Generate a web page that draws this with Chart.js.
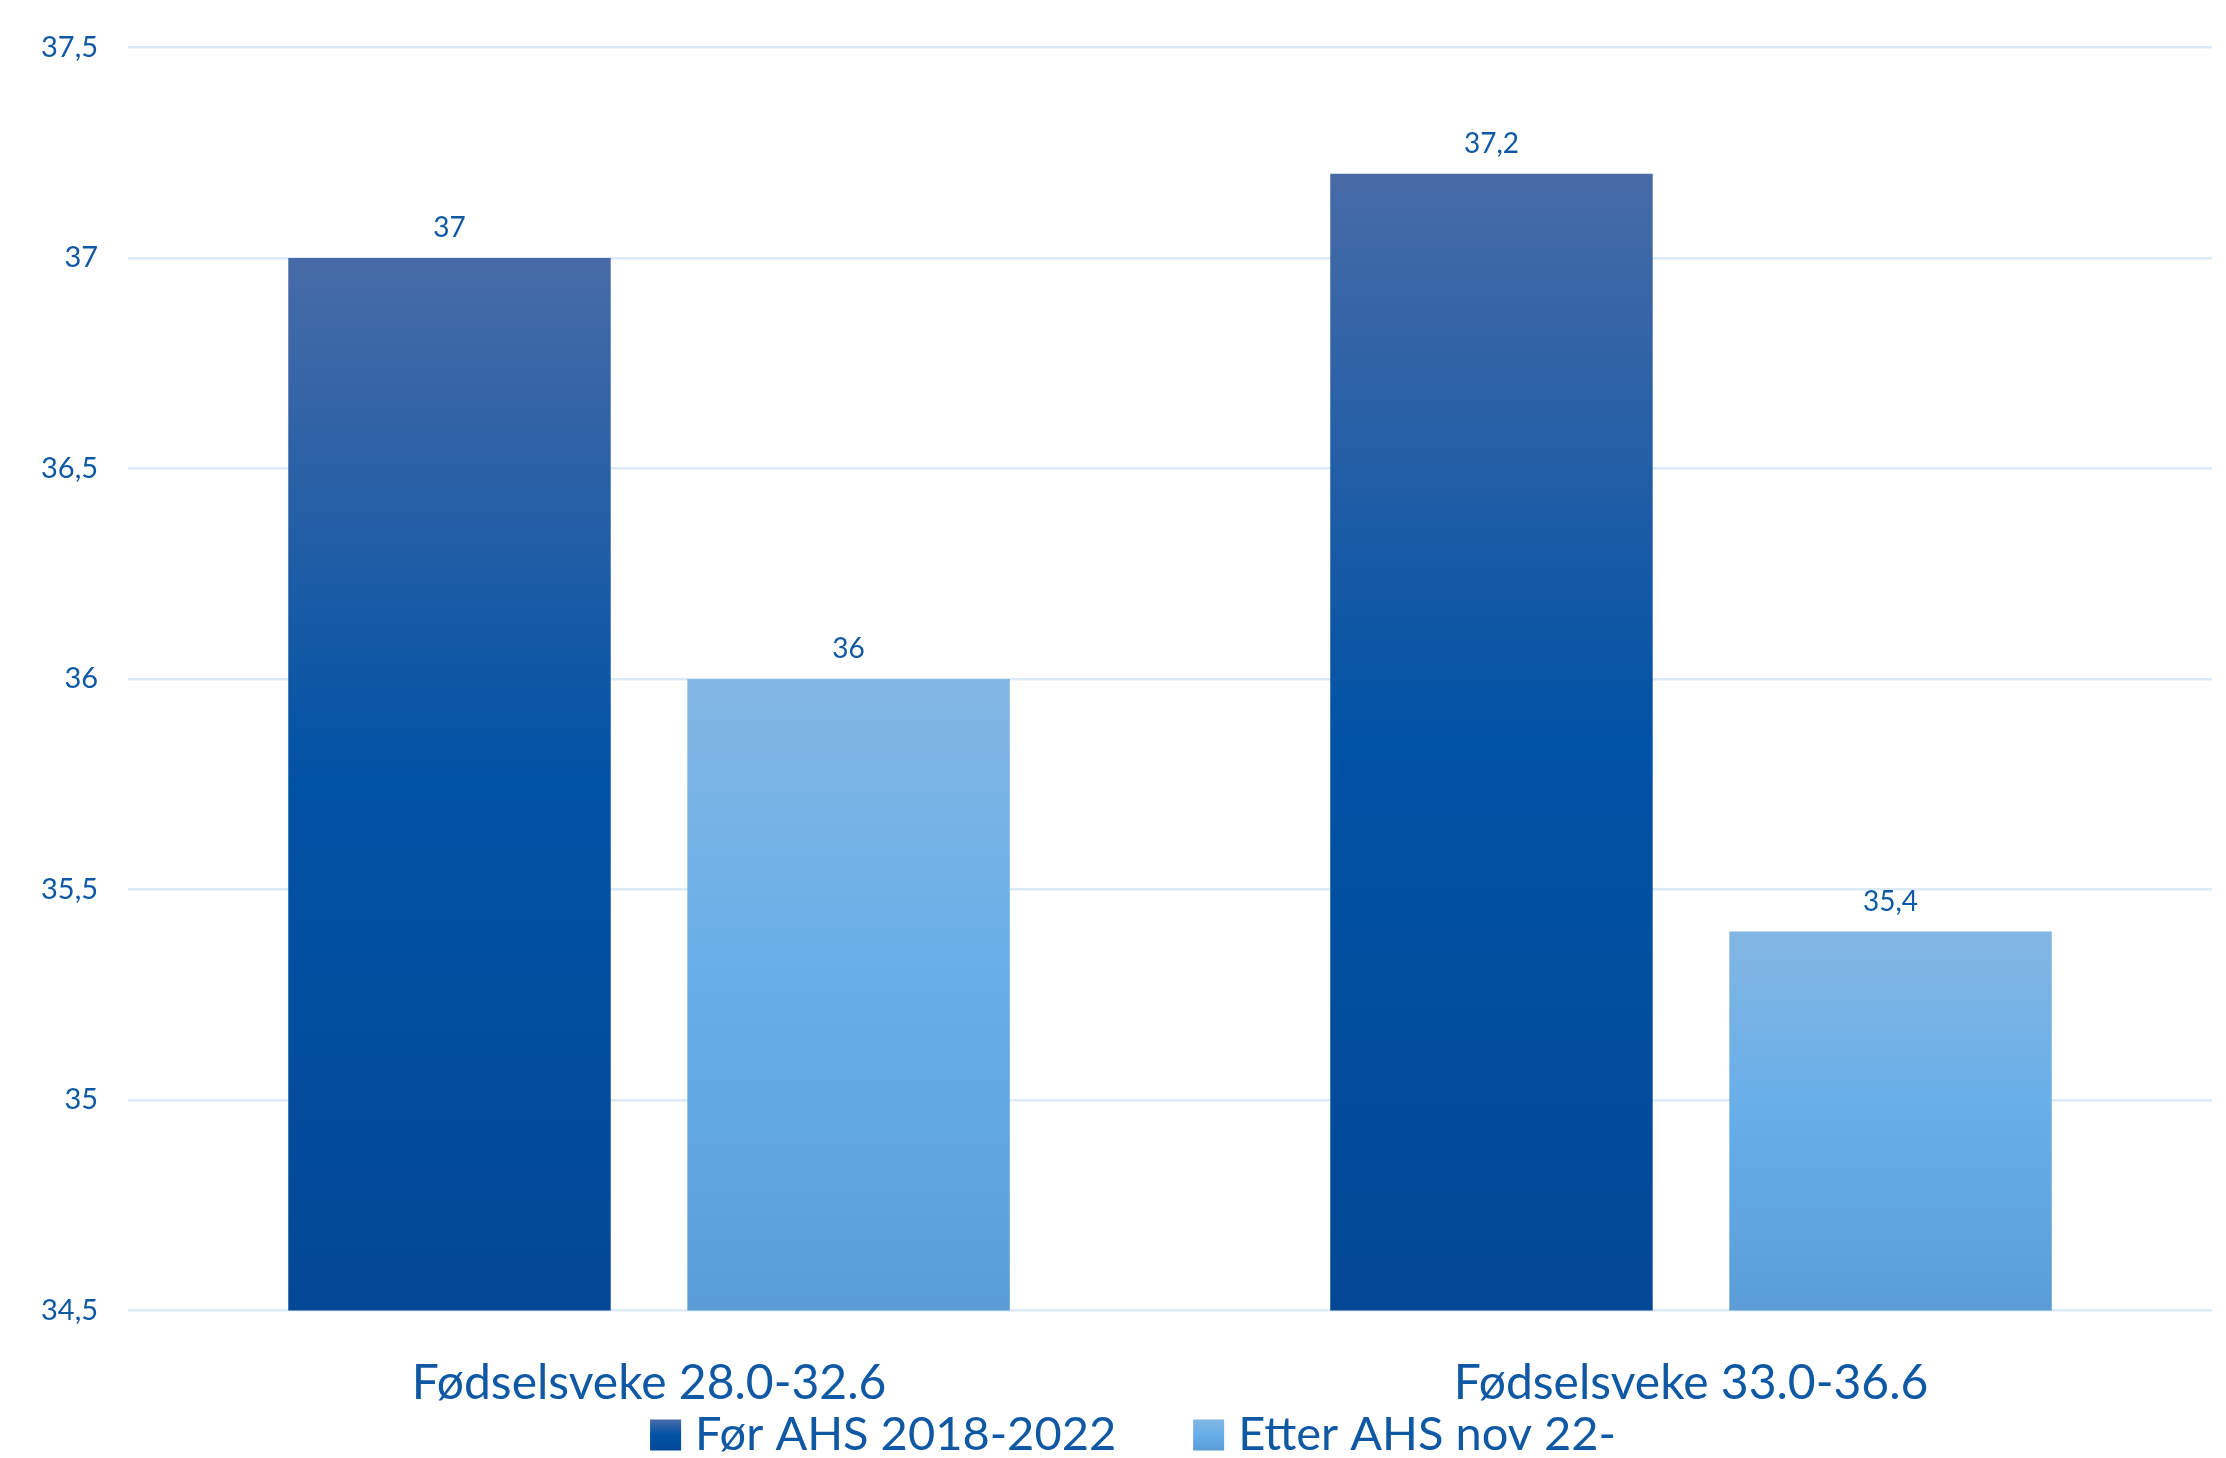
<!DOCTYPE html>
<html>
<head>
<meta charset="utf-8">
<script src="https://cdn.jsdelivr.net/npm/chart.js@4.4.0/dist/chart.umd.min.js"></script>
<style>
  html, body { margin: 0; padding: 0; background: #ffffff; }
  #wrap { width: 2226px; height: 1458px; }
</style>
</head>
<body>
<div id="wrap"><canvas id="barChart" width="2226" height="1458"></canvas></div>
<script>
// data
const categories = ['Fødselsveke 28.0-32.6', 'Fødselsveke 33.0-36.6'];
const seriesNames = ['Før AHS 2018-2022', 'Etter AHS nov 22-'];
const forValues = [37, 37.2];
const etterValues = [36, 35.4];
const yTickLabels = ['34,5', '35', '35,5', '36', '36,5', '37', '37,5'];

const textColor = '#0f58a4';
const fontName = 'Lato, "Open Sans", sans-serif';

// colour stops of each bar's vertical gradient (top, middle, bottom)
const darkStops = ['#476ba7', '#0052a5', '#034896'];
const lightStops = ['#82b6e3', '#66aee8', '#5a9dd6'];

function barGradient(stops) {
  return function (context) {
    const chart = context.chart;
    const yScale = chart.scales.y;
    if (!chart.chartArea || !yScale || context.dataIndex === undefined) return stops[1];
    const v = context.dataset.data[context.dataIndex];
    const top = yScale.getPixelForValue(v);
    const bottom = yScale.getPixelForValue(yScale.min);
    const g = chart.ctx.createLinearGradient(0, top, 0, bottom);
    g.addColorStop(0, stops[0]);
    g.addColorStop(0.5, stops[1]);
    g.addColorStop(1, stops[2]);
    return g;
  };
}

// value labels above each bar
const valueLabels = {
  id: 'valueLabels',
  afterDatasetsDraw(chart) {
    const ctx = chart.ctx;
    ctx.save();
    ctx.fillStyle = textColor;
    ctx.font = '28px ' + fontName;
    ctx.textAlign = 'center';
    ctx.textBaseline = 'middle';
    chart.data.datasets.forEach((ds, i) => {
      chart.getDatasetMeta(i).data.forEach((bar, j) => {
        const txt = String(ds.data[j]).replace('.', ',');
        ctx.fillText(txt, bar.x, bar.y - 30);
      });
    });
    ctx.restore();
  }
};

// legend at the bottom: gradient squares + series names
const bottomLegend = {
  id: 'bottomLegend',
  afterDraw(chart) {
    const ctx = chart.ctx;
    const box = 31, gap = 14, itemGap = 77;
    const y = chart.height - 23;
    ctx.save();
    ctx.font = '47px ' + fontName;
    const widths = seriesNames.map(n => ctx.measureText(n).width);
    const total = widths.reduce((a, w) => a + box + gap + w, 0) + itemGap * (seriesNames.length - 1);
    let x = chart.width / 2 + 20 - total / 2;
    const stopsList = [darkStops, lightStops];
    seriesNames.forEach((n, i) => {
      const g = ctx.createLinearGradient(0, y - box / 2, 0, y + box / 2);
      g.addColorStop(0, stopsList[i][0]);
      g.addColorStop(0.5, stopsList[i][1]);
      g.addColorStop(1, stopsList[i][2]);
      ctx.fillStyle = g;
      ctx.fillRect(x, y - box / 2, box, box);
      x += box + gap;
      ctx.fillStyle = textColor;
      ctx.textAlign = 'left';
      ctx.textBaseline = 'middle';
      ctx.fillText(n, x, y);
      x += widths[i] + itemGap;
    });
    ctx.restore();
  }
};

const ctx = document.getElementById('barChart').getContext('2d');
const data = {
  labels: categories,
  datasets: [
    {
      label: seriesNames[0],
      data: forValues,
      backgroundColor: barGradient(darkStops),
      borderWidth: 0
    },
    {
      label: seriesNames[1],
      data: etterValues,
      backgroundColor: barGradient(lightStops),
      borderWidth: 0
    }
  ]
};

const config = {
  type: 'bar',
  data: data,
  options: {
    responsive: false,
    animation: false,
    devicePixelRatio: 1,
    categoryPercentage: 0.766,
    barPercentage: 0.808,
    layout: { padding: { top: 47, right: 14, left: 11, bottom: 42 } },
    scales: {
      x: {
        grid: { display: false, drawTicks: true, tickLength: 40, tickColor: 'transparent' },
        border: { display: false },
        ticks: { color: textColor, font: { family: fontName, size: 48 }, padding: 4 }
      },
      y: {
        min: 34.5,
        max: 37.5,
        grid: { color: '#dbe9f8', lineWidth: 2.5, drawTicks: false },
        border: { display: false },
        ticks: {
          stepSize: 0.5,
          color: textColor,
          font: { family: fontName, size: 29 },
          padding: 30,
          callback: (v, i) => yTickLabels[i]
        }
      }
    },
    plugins: {
      legend: { display: false },
      tooltip: { enabled: false }
    }
  },
  plugins: [valueLabels, bottomLegend]
};

const progressBarChart = new Chart(ctx, config);
</script>
</body>
</html>
